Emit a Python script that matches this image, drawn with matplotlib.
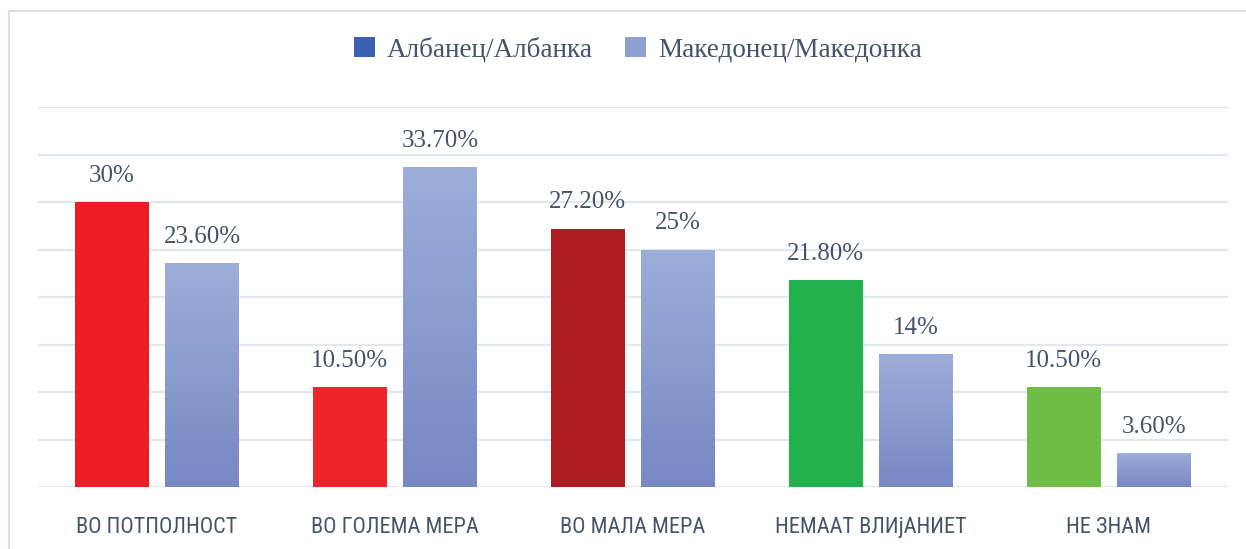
import matplotlib
matplotlib.use("Agg")
import matplotlib.pyplot as plt
import numpy as np
from matplotlib.patches import Patch, Rectangle
from matplotlib.colors import LinearSegmentedColormap

categories = ["ВО ПОТПОЛНОСТ", "ВО ГОЛЕМА МЕРА", "ВО МАЛА МЕРА", "НЕМААТ ВЛИјАНИЕТ", "НЕ ЗНАМ"]
albanian = [30.0, 10.5, 27.2, 21.8, 10.5]
macedonian = [23.6, 33.7, 25.0, 14.0, 3.6]
albanian_labels = ["30%", "10.50%", "27.20%", "21.80%", "10.50%"]
macedonian_labels = ["23.60%", "33.70%", "25%", "14%", "3.60%"]
series_names = ["Албанец/Албанка", "Македонец/Македонка"]
albanian_colors = ["#EE1C24", "#EE2428", "#AE1C22", "#22B14C", "#6EBE45"]

TEXT = "#44546A"
GRID = "#E3E7EE"
serif = ["Liberation Serif", "DejaVu Serif"]
cond = ["Liberation Sans Narrow", "Roboto Condensed", "Roboto", "DejaVu Sans"]

fig = plt.figure(figsize=(12.46, 5.49), dpi=100)
W, H = 1246, 549
ax = fig.add_axes([38 / W, 1 - 487 / H, (1228 - 38) / W, (487 - 107) / H])

x = np.arange(len(categories))
bw = 0.31
off = 0.19

b1 = ax.bar(x - off, albanian, width=bw, color=albanian_colors, zorder=3)
b2 = ax.bar(x + off, macedonian, width=bw, color="#8C9DD0", zorder=3)

grad = LinearSegmentedColormap.from_list("g", ["#7788C3", "#9DAEDA"])
gimg = np.linspace(0, 1, 256).reshape(-1, 1)
for r in b2:
    x0, y0, w, h = r.get_x(), r.get_y(), r.get_width(), r.get_height()
    im = ax.imshow(gimg, cmap=grad, aspect="auto", origin="lower",
                   extent=(x0, x0 + w, y0, y0 + h), zorder=4)
    im.set_clip_path(r)

for xi, v, lab in zip(x, albanian, albanian_labels):
    ax.text(xi - off, v + 1.6, lab, ha="center", va="bottom", fontsize=18,
            color=TEXT, family=serif, zorder=5)
for xi, v, lab in zip(x, macedonian, macedonian_labels):
    ax.text(xi + off, v + 1.6, lab, ha="center", va="bottom", fontsize=18,
            color=TEXT, family=serif, zorder=5)

ax.set_xlim(-0.5, len(categories) - 0.5)
ax.set_ylim(0, 40)
ax.set_yticks(np.arange(0, 41, 5))
ax.yaxis.grid(True, color=GRID, linewidth=1.6, zorder=0)
ax.set_axisbelow(True)
ax.tick_params(axis="y", left=False, labelleft=False)
ax.tick_params(axis="x", bottom=False, pad=18)
ax.set_xticks(x)
ax.set_xticklabels(categories, fontsize=16, color=TEXT, family=cond)
for s in ax.spines.values():
    s.set_visible(False)

handles = [Patch(facecolor="#3A62B0", edgecolor="none"),
           Patch(facecolor="#8E9FD2", edgecolor="none")]
fig.legend(handles, series_names, loc="center", bbox_to_anchor=(638 / W, 1 - 50 / H),
           ncol=2, frameon=False, prop={"family": serif, "size": 19.5},
           labelcolor=TEXT, handlelength=0.75, handleheight=0.75, handletextpad=0.45,
           columnspacing=1.2)

fig.patches.append(Rectangle((9 / W, -0.1), 1.2, 1 - 11 / H + 0.1, transform=fig.transFigure,
                             fill=False, edgecolor="#DCE1E9", linewidth=1.5))

fig.savefig("out.png", dpi=100)
